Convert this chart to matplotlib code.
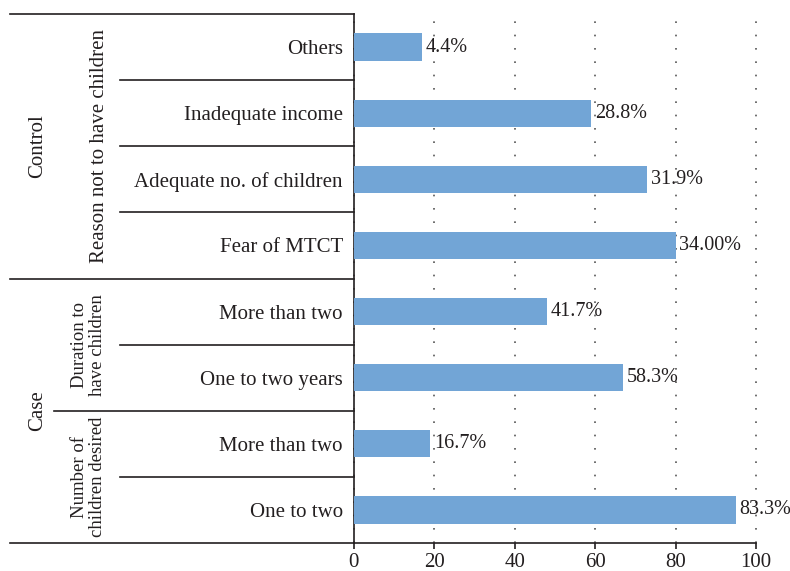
import matplotlib.pyplot as plt
import matplotlib.transforms as mtransforms

plt.rcParams['font.family'] = ['Liberation Serif', 'DejaVu Serif']

#%% data (top to bottom)

categories = ['Others', 'Inadequate income', 'Adequate no. of children', 'Fear of MTCT',
              'More than two', 'One to two years', 'More than two', 'One to two']
values = [17, 59, 73, 80, 48, 67, 19, 95]
value_labels = ['4.4%', '28.8%', '31.9%', '34.00%', '41.7%', '58.3%', '16.7%', '83.3%']
xticks = [0, 20, 40, 60, 80, 100]

groups = ['Control', 'Case']
subgroups = ['Reason not to have children', 'Duration to\nhave children', 'Number of\nchildren desired']

#%% plot

txt = '#231f20'
fs = 15
fig = plt.figure(figsize=(7.9, 5.71), dpi=100)
ax = fig.add_axes([0.448, 0.049, 0.509, 0.9265])

pos = list(range(len(categories)))
ax.barh(pos, values, height=0.41, color='#72a5d6', zorder=3)
for p, v, lab in zip(pos, values, value_labels):
    ax.text(v + 0.9, p, lab, va='center', ha='left', fontsize=fs - 0.5, color=txt, zorder=4)

ax.set_ylim(len(categories) - 0.5, -0.5)
ax.set_xlim(0, 100)
ax.set_xticks(xticks)
ax.tick_params(axis='x', labelsize=fs, colors=txt, length=4, width=1.2, pad=3)
ax.set_yticks(pos)
ax.set_yticklabels(categories, fontsize=fs, color=txt)
ax.tick_params(axis='y', length=0, pad=8)

ax.xaxis.grid(True, linestyle=(0, (1, 7)), color='#555555', linewidth=1.2)
for gl in ax.get_xgridlines():
    gl.set_clip_on(False)
ax.set_axisbelow(True)
for s in ['top', 'right']:
    ax.spines[s].set_visible(False)
ax.spines['left'].set_color(txt)
ax.spines['bottom'].set_color(txt)
ax.spines['left'].set_linewidth(1.2)
ax.spines['bottom'].set_linewidth(1.2)

# left side table lines
tr = mtransforms.blended_transform_factory(ax.transAxes, ax.transData)
def hline(x0, y):
    ax.plot([x0, 0], [y, y], transform=tr, clip_on=False, color=txt, lw=1.2)

x_outer, x_mid, x_inner = -0.856, -0.746, -0.582
hline(x_outer, -0.5)
hline(x_outer, 3.5)
hline(x_outer, 7.5)
hline(x_mid, 5.5)
for y in [0.5, 1.5, 2.5, 4.5, 6.5]:
    hline(x_inner, y)

# group labels
ax.text(-0.787, 1.5, groups[0], transform=tr, rotation=90, ha='center', va='center',
        fontsize=fs, color=txt)
ax.text(-0.787, 5.5, groups[1], transform=tr, rotation=90, ha='center', va='center',
        fontsize=fs, color=txt)
ax.text(-0.632, 1.5, subgroups[0], transform=tr, rotation=90, ha='center', va='center',
        fontsize=fs, color=txt)
ax.text(-0.660, 4.5, subgroups[1], transform=tr, rotation=90, ha='center', va='center',
        fontsize=fs - 1.5, color=txt, linespacing=1.1)
ax.text(-0.660, 6.5, subgroups[2], transform=tr, rotation=90, ha='center', va='center',
        fontsize=fs - 1.5, color=txt, linespacing=1.1)

fig.savefig('out.png', dpi=100)
